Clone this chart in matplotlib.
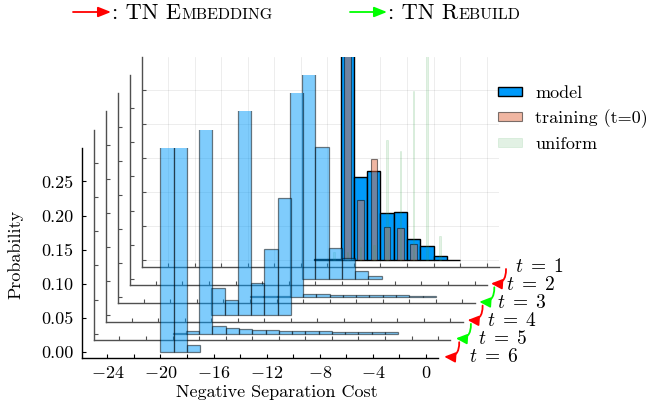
import matplotlib
matplotlib.use("Agg")
import matplotlib.pyplot as plt
from matplotlib.patches import Patch, FancyArrowPatch
import numpy as np

plt.rcParams['font.family'] = 'cmr10'
plt.rcParams['mathtext.fontset'] = 'cm'
plt.rcParams['axes.unicode_minus'] = False

# values (bins are 1 wide, given by left edge)
model_left = [-13, -12, -11, -10, -9, -8, -7, -6, -5, -4, -3]
model_prob = [0.002, 0.002, 0.54, 0.123, 0.131, 0.070, 0.071, 0.032, 0.0215, 0.006, 0.0012]

train_center = [-10.5, -9.5, -8.5, -7.5, -6.5, -5.5]
train_prob = [0.64, 0.089, 0.149, 0.049, 0.048, 0.0245]

uniform_center = [-11.5, -10.5, -9.5, -8.5, -7.5, -6.5, -5.5, -4.5, -3.5]
uniform_prob = [0.012, 0.013, 0.019, 0.023, 0.176, 0.161, 0.249, 0.31, 0.036]

t2_left = [-13, -12, -11, -10, -9, -8]
t2_prob = [0.716, 0.193, 0.045, 0.030, 0.0118, 0.004]

t3_left = list(range(-16, -2))
t3_prob = [0.0015, 0.0015, 0.0015, 0.968, 0.0045, 0.004, 0.0035, 0.003,
           0.003, 0.003, 0.0025, 0.0025, 0.002, 0.002]

t4_left = [-18, -17, -16, -15, -14, -13]
t4_prob = [0.040, 0.022, 0.62, 0.048, 0.098, 0.172]

t5_left = list(range(-20, -3))
t5_prob = [0.0015, 0.004, 0.93, 0.0115, 0.009, 0.0072, 0.0058, 0.005, 0.0044,
           0.004, 0.0035, 0.0032, 0.003, 0.0028, 0.0025, 0.0022, 0.002]

t6_left = [-20, -19, -18]
t6_prob = [0.50, 0.49, 0.010]

steps = [1, 2, 3, 4, 5, 6]
layer_data = {2: (t2_left, t2_prob), 3: (t3_left, t3_prob), 4: (t4_left, t4_prob),
              5: (t5_left, t5_prob), 6: (t6_left, t6_prob)}

xticks = np.arange(-24, 1, 2)
yticks = [0.0, 0.05, 0.10, 0.15, 0.20, 0.25]
ytick_labels = ['0.00', '0.05', '0.10', '0.15', '0.20', '0.25']

BLUE = '#009AFA'
ORANGE = '#E36F47'
GREEN = '#3EA44E'

W, H = 653, 412
fig = plt.figure(figsize=(W / 100, H / 100), dpi=100)

# front axes box in pixels, and shift of each layer behind it
x0, y0, aw, ah = 81.7, H - 358.3, 356.6, 210.3
dx, dy = 12.15, 18.3

for t in steps:
    k = 6 - t
    ax = fig.add_axes([(x0 + k * dx) / W, (y0 + k * dy) / H, aw / W, ah / H])
    ax.set_facecolor('none')
    ax.set_xlim(-25.93, 0.93)
    ax.set_ylim(-0.0093, 0.299)
    for s in ['top', 'right']:
        ax.spines[s].set_visible(False)
    col = 'black' if t == 6 else '#505050'
    for s in ['left', 'bottom']:
        ax.spines[s].set_color(col)
        ax.spines[s].set_linewidth(1.0)
    ax.set_xticks(xticks)
    ax.set_yticks(yticks)
    ax.tick_params(direction='in', length=3, width=0.8, color=col, labelsize=13)
    if t == 6:
        ax.set_xticklabels([r'$%d$' % v if v % 4 == 0 else '' for v in xticks])
        ax.set_yticklabels(ytick_labels)
        ax.tick_params(axis='y', pad=6)
        ax.tick_params(axis='x', pad=5)
    else:
        ax.set_xticklabels([])
        ax.set_yticklabels([])

    if t == 1:
        ax.grid(True, color='black', alpha=0.1, lw=0.5)
        ax.set_axisbelow(True)
        ax.bar(model_left, model_prob, width=1, align='edge', color=BLUE,
               edgecolor='black', lw=1.0)
        ax.bar(train_center, train_prob, width=0.5, color=ORANGE, alpha=0.5,
               edgecolor='black', lw=0.8)
        ax.bar(uniform_center, uniform_prob, width=0.12, color=GREEN, alpha=0.15,
               edgecolor=GREEN, lw=0.6)
    else:
        left, prob = layer_data[t]
        ax.bar(left, prob, width=1, align='edge', color=BLUE, alpha=0.5,
               edgecolor='black', lw=0.9)

handles = [Patch(facecolor=BLUE, edgecolor='black', lw=1.0),
           Patch(facecolor=ORANGE, edgecolor='black', alpha=0.5, lw=0.8),
           Patch(facecolor=GREEN, edgecolor=GREEN, alpha=0.15, lw=0.6)]
fig.legend(handles, ['model', 'training (t=0)', 'uniform'], loc='upper left',
           bbox_to_anchor=(498 / W, 1 - 86 / H), frameon=False, fontsize=13,
           handlelength=1.35, handleheight=0.4, handletextpad=0.7,
           labelspacing=0.45, borderpad=0, borderaxespad=0)

fig.text(276.7 / W, 1 - 392 / H, 'Negative Separation Cost', ha='center',
         va='center', fontsize=13)
fig.text(15 / W, 1 - 254 / H, 'Probability', ha='center', va='center',
         rotation=90, fontsize=13)


def arrow(xa, ya, xb, yb, color, rad=0.0, scale=11, lw=1.3,
          style='-|>,head_length=0.5,head_width=0.25'):
    a = FancyArrowPatch((xa / W, 1 - ya / H), (xb / W, 1 - yb / H),
                        transform=fig.transFigure, arrowstyle=style,
                        mutation_scale=scale, color=color, lw=lw,
                        shrinkA=0, shrinkB=0,
                        connectionstyle='arc3,rad=%g' % rad)
    fig.add_artist(a)


# step labels and curved arrows on the right
for i, t in enumerate(steps):
    fig.text((515 - 9.2 * i) / W, 1 - (266.7 + 18.1 * i) / H, r'$t\;=\;%d$' % t,
             ha='left', va='center', fontsize=14)
for i in range(5):
    sx, sy = 506 - 11.7 * i, 269 + 18.3 * i
    arrow(sx, sy, sx - 15, sy + 14.5, 'red' if i % 2 == 0 else '#00FF00',
          rad=-0.55, scale=10, lw=1.3,
          style='-|>,head_length=0.65,head_width=0.3')

# title with fake small caps
renderer = fig.canvas.get_renderer()


def caps_text(x, pieces):
    for s, size in pieces:
        txt = fig.text(x / W, 1 - 19 / H, s, ha='left', va='baseline', fontsize=size)
        bb = txt.get_window_extent(renderer)
        x = bb.x1


arrow(73, 12, 111, 12, 'red', scale=11, style='-|>,head_length=0.7,head_width=0.28')
caps_text(112, [(': TN E', 16), ('MBEDDING', 11.5)])
arrow(350, 12, 387, 12, '#00FF00', scale=11, style='-|>,head_length=0.7,head_width=0.28')
caps_text(388, [(': TN R', 16), ('EBUILD', 11.5)])

fig.savefig('out.png', dpi=100)
